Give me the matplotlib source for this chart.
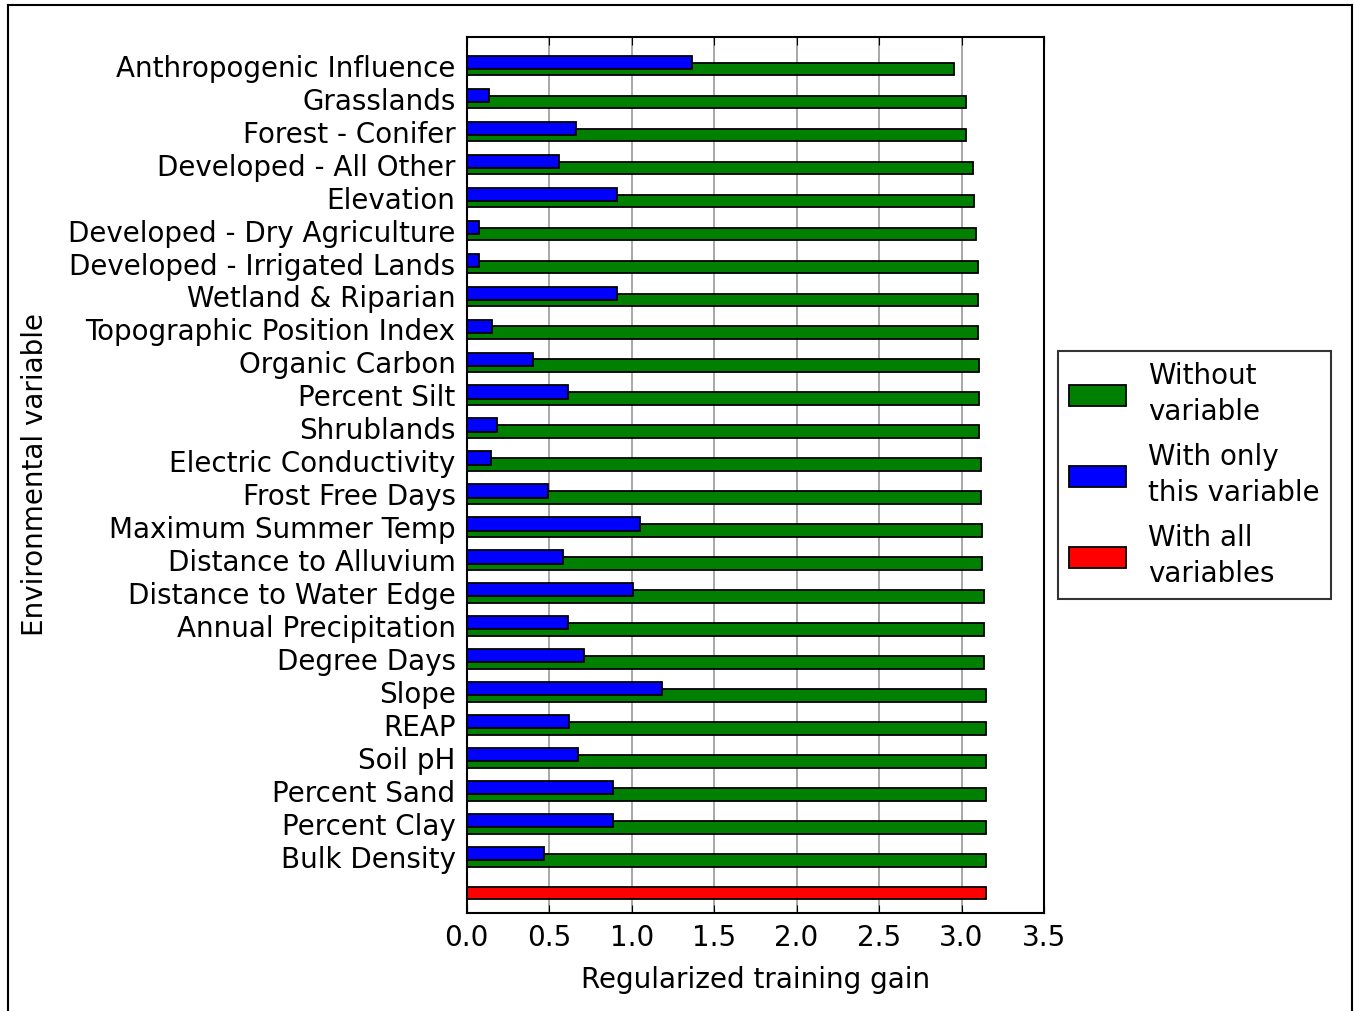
import numpy as np
import matplotlib
matplotlib.use('Agg')
import matplotlib.pyplot as plt
from matplotlib.lines import Line2D

# variables, top to bottom as in the chart
variables = ['Anthropogenic Influence', 'Grasslands', 'Forest - Conifer',
             'Developed - All Other', 'Elevation', 'Developed - Dry Agriculture',
             'Developed - Irrigated Lands', 'Wetland & Riparian',
             'Topographic Position Index', 'Organic Carbon', 'Percent Silt',
             'Shrublands', 'Electric Conductivity', 'Frost Free Days',
             'Maximum Summer Temp', 'Distance to Alluvium', 'Distance to Water Edge',
             'Annual Precipitation', 'Degree Days', 'Slope', 'REAP', 'Soil pH',
             'Percent Sand', 'Percent Clay', 'Bulk Density']
without_var = [2.953, 3.026, 3.026, 3.067, 3.077, 3.087, 3.097, 3.097, 3.097,
               3.107, 3.107, 3.107, 3.117, 3.117, 3.127, 3.127, 3.137, 3.137,
               3.137, 3.147, 3.147, 3.147, 3.147, 3.147, 3.147]
only_var = [1.367, 0.135, 0.662, 0.561, 0.909, 0.073, 0.073, 0.909, 0.155,
            0.400, 0.612, 0.186, 0.145, 0.491, 1.050, 0.582, 1.010, 0.612,
            0.713, 1.182, 0.622, 0.673, 0.887, 0.887, 0.470]
all_vars = 3.147

n = len(variables)
y = np.arange(n)[::-1].astype(float)   # Anthropogenic at top
h = 0.38
fs = 20

fig = plt.figure(figsize=(13.54, 10.11), dpi=100)
ax = fig.add_axes([466.7/1354, 1 - 913/1011, (1044 - 466.7)/1354, (913 - 37)/1011])

ax.xaxis.grid(True, color='#999999', linestyle='-', linewidth=1.2, zorder=0)
ax.set_axisbelow(True)

ax.barh(y, without_var, height=h, color='green', edgecolor='black', linewidth=1.3,
        label='Without\nvariable', zorder=2)
ax.barh(y + 0.2, only_var, height=h + 0.02, color='blue', edgecolor='black', linewidth=1.3,
        label='With only\nthis variable', zorder=3)
ax.barh([-1], [all_vars], height=h, color='red', edgecolor='black', linewidth=1.3,
        label='With all\nvariables', zorder=2)

ax.set_xlim(0, 3.5)
ax.set_ylim(-1.6, 24.97)
ax.set_xticks(np.arange(0, 3.51, 0.5))
ax.set_yticks(y + 0.1)
ax.set_yticklabels(variables, fontsize=fs)
ax.tick_params(axis='x', labelsize=fs, direction='in', top=True, length=6, pad=8)
ax.tick_params(axis='y', length=0, pad=8)
for s in ax.spines.values():
    s.set_linewidth(1.5)

ax.set_xlabel('Regularized training gain', fontsize=fs, labelpad=10)
ax.set_ylabel('Environmental variable', fontsize=fs, labelpad=14)

leg = ax.legend(loc='center left', bbox_to_anchor=(1.024, 0.5), fontsize=fs,
                frameon=True, fancybox=False, edgecolor='black',
                handlelength=2.05, handleheight=0.78, labelspacing=0.62,
                borderpad=0.4, borderaxespad=0)
for t in leg.get_texts():
    t.set_linespacing(1.35)
leg.get_frame().set_linewidth(1.5)

# thin frame around the picture
for xs, ys in [([8/1354, 8/1354], [0, 1 - 5/1011]),
               ([8/1354, 1352/1354], [1 - 5/1011, 1 - 5/1011]),
               ([1352/1354, 1352/1354], [0, 1 - 5/1011])]:
    fig.add_artist(Line2D(xs, ys, color='black', linewidth=1.5,
                          transform=fig.transFigure))

fig.savefig('out.png', dpi=100)
